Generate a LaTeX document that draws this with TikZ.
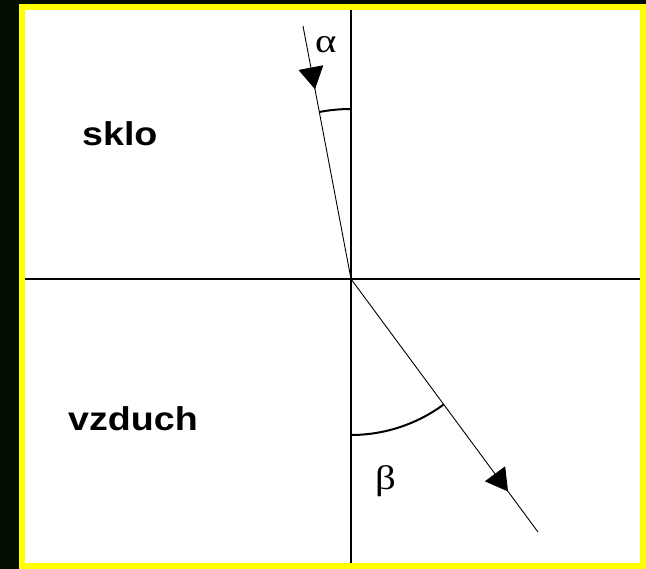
\documentclass[tikz,border=0pt]{standalone}
\usepackage{fontspec}
\setmainfont{Liberation Sans}
\newfontfamily\greekfont{Liberation Serif}
\usetikzlibrary{arrows.meta,decorations.markings}
\definecolor{bgdark}{RGB}{0,13,0}
\definecolor{frameyellow}{RGB}{255,255,0}
\tikzset{
  raystyle/.style={line width=0.9pt, black},
  axisline/.style={line width=1.2pt, black},
  anglearc/.style={line width=2pt, black},
  regionlabel/.style={font=\fontsize{33}{33}\selectfont\bfseries, inner sep=0pt, anchor=base west},
  greeklabel/.style={font=\fontsize{34}{34}\greekfont, inner sep=0pt, anchor=base west},
  midarrow/.style={postaction={decorate}, decoration={markings,
      mark=at position #1 with {\arrow{Triangle[length=22pt,width=25pt]}}}}
}
\begin{document}
\begin{tikzpicture}[x=1pt,y=1pt]
  \useasboundingbox (0,0) rectangle (646,569);
  \fill[bgdark] (0,0) rectangle (646,569);
  \draw[frameyellow, line width=6pt, fill=white] (22,562) rectangle (643,3);
  % axes
  \coordinate (top) at (351,559);
  \coordinate (bottom) at (351,6);
  \coordinate (left) at (25,290);
  \coordinate (right) at (640,290);
  \coordinate (O) at (351,290);
  \coordinate (A) at (303,543);
  \coordinate (B) at (538,37);
  \draw[axisline] (top) -- (bottom);
  \draw[axisline] (left) -- (right);
  % rays
  \draw[raystyle, midarrow=0.25] (A) -- (O);
  \draw[raystyle, midarrow=0.84] (O) -- (B);
  % angle arcs
  \draw[anglearc] (O) ++(90:170) arc[start angle=90, end angle=100.8, radius=170];
  \draw[anglearc] (O) ++(270:156) arc[start angle=270, end angle=306.5, radius=156];
  % labels
  \node[regionlabel] (sklo) at (82,423) {\scalebox{1.14}[1]{sklo}};
  \node[regionlabel] (vzduch) at (68,138) {\scalebox{1.14}[1]{vzduch}};
  \node[greeklabel] (alpha) at (315,516) {\scalebox{1.2}[1]{α}};
  \node[greeklabel] (beta) at (375,79) {\scalebox{1.2}[1]{β}};
\end{tikzpicture}
\end{document}
